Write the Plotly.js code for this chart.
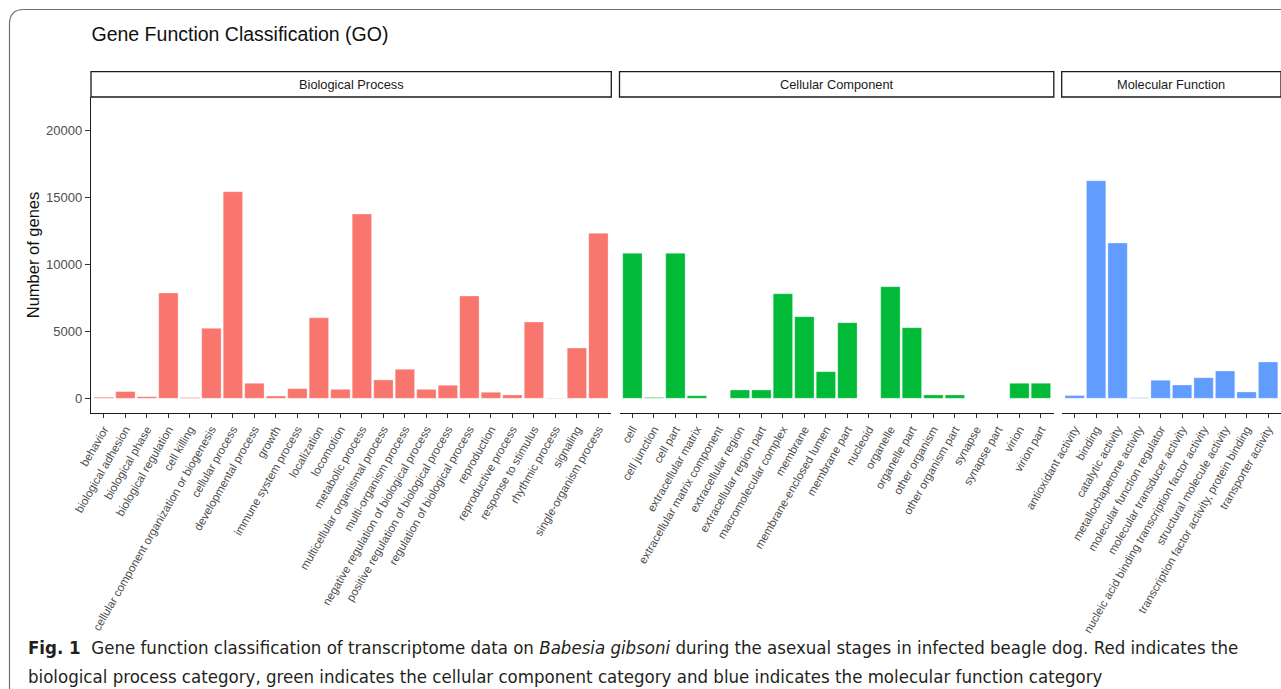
<!DOCTYPE html>
<html>
<head>
<meta charset="utf-8">
<script src="https://cdn.plot.ly/plotly-3.0.1.min.js"></script>
<style>html,body{margin:0;padding:0;background:#fff;}#chart{width:1281px;height:689px;}</style>
</head>
<body>
<div id="chart"></div>
<script>
// ---- Data ----
const bpCategories = ["behavior","biological adhesion","biological phase","biological regulation","cell killing","cellular component organization or biogenesis","cellular process","developmental process","growth","immune system process","localization","locomotion","metabolic process","multicellular organismal process","multi-organism process","negative regulation of biological process","positive regulation of biological process","regulation of biological process","reproduction","reproductive process","response to stimulus","rhythmic process","signaling","single-organism process"];
const bpValues = [80, 500, 120, 7860, 60, 5220, 15420, 1120, 170, 720, 6015, 670, 13750, 1370, 2165, 670, 970, 7635, 450, 250, 5695, 30, 3755, 12310];

const ccCategories = ["cell","cell junction","cell part","extracellular matrix","extracellular matrix component","extracellular region","extracellular region part","macromolecular complex","membrane","membrane-enclosed lumen","membrane part","nucleoid","organelle","organelle part","other organism","other organism part","synapse","synapse part","virion","virion part"];
const ccValues = [10820, 60, 10820, 195, 0, 620, 620, 7800, 6090, 1985, 5640, 0, 8330, 5270, 250, 250, 0, 0, 1120, 1120];

const mfCategories = ["antioxidant activity","binding","catalytic activity","metallochaperone activity","molecular function regulator","molecular transducer activity","nucleic acid binding transcription factor activity","structural molecule activity","transcription factor activity, protein binding","transporter activity"];
const mfValues = [200, 16240, 11590, 40, 1340, 995, 1540, 2040, 470, 2710];

const panelLabels = ["Biological Process", "Cellular Component", "Molecular Function"];
const yTicks = [0, 5000, 10000, 15000, 20000];

const chartTitle = "Gene Function Classification (GO)";
const yTitle = "Number of genes";
const captionLine1 = "<b>Fig. 1</b>  Gene function classification of transcriptome data on <i>Babesia gibsoni</i> during the asexual stages in infected beagle dog. Red indicates the";
const captionLine2 = "biological process category, green indicates the cellular component category and blue indicates the molecular function category";

// ---- Styling ----
const colors = ["#F8766D", "#00BA38", "#619CFF"];
const fontFam = "Liberation Sans, Arial, Helvetica, sans-serif";
const capFam = "Liberation Sans Narrow, Arial Narrow, DejaVu Sans Condensed, sans-serif";

const doms = [[0, 0.43723], [0.44412, 0.80908], [0.81571, 1.0]];

function mkTrace(cats, vals, color, xa) {
  return {type: "bar", x: cats, y: vals, xaxis: xa, yaxis: "y",
    marker: {color: color, line: {width: 0.6, color: "rgba(255,255,255,0.5)"}},
    hoverinfo: "x+y", showlegend: false};
}
const traces = [
  mkTrace(bpCategories, bpValues, colors[0], "x"),
  mkTrace(ccCategories, ccValues, colors[1], "x2"),
  mkTrace(mfCategories, mfValues, colors[2], "x3")
];

function mkX(dom, n) {
  return {domain: dom, anchor: "y", type: "category", range: [-0.6, n - 0.4],
    showline: true, linecolor: "#1a1a1a", linewidth: 1.2, ticks: "outside", ticklen: 4,
    tickcolor: "#333", tickwidth: 1.1, tickangle: -60, showgrid: false, zeroline: false,
    tickfont: {family: fontFam, size: 11.5, color: "#4d4d4d"}, fixedrange: true};
}

const layout = {
  width: 1281, height: 689,
  margin: {l: 91, r: 0, t: 97, b: 276, pad: 0},
  paper_bgcolor: "#fff", plot_bgcolor: "#fff",
  bargap: 0.1,
  font: {family: fontFam},
  title: {text: chartTitle, x: 91.5/1281, xref: "container", xanchor: "left",
          y: 1 - 34/689, yref: "container", yanchor: "middle",
          font: {family: fontFam, size: 19.5, color: "#111"}},
  xaxis: mkX(doms[0], bpCategories.length),
  xaxis2: mkX(doms[1], ccCategories.length),
  xaxis3: mkX(doms[2], mfCategories.length),
  yaxis: {domain: [0, 1], anchor: "x", range: [-1097, 22485], tickvals: yTicks,
    ticktext: yTicks.map(String), showline: true, linecolor: "#1a1a1a", linewidth: 1.2,
    ticks: "outside", ticklen: 5, tickcolor: "#333", tickwidth: 1.1, showgrid: false, zeroline: false,
    tickfont: {family: fontFam, size: 13, color: "#4d4d4d"},
    title: {text: yTitle, standoff: 2, font: {family: fontFam, size: 16.5, color: "#111"}}},
  shapes: [],
  annotations: []
};

// strips
const sy0 = 1.0, sy1 = (413 - 71.7) / 316;
doms.forEach((d, i) => {
  layout.shapes.push({type: "rect", xref: "paper", yref: "paper", x0: d[0], x1: d[1],
    y0: sy0, y1: sy1, fillcolor: "#fff", line: {color: "#1a1a1a", width: 1.3}});
  layout.annotations.push({xref: "paper", yref: "paper", x: (d[0] + d[1]) / 2,
    y: (sy0 + sy1) / 2, text: panelLabels[i], showarrow: false, xanchor: "center", yanchor: "middle",
    font: {family: fontFam, size: 12.8, color: "#1a1a1a"}});
});

// outer rounded frame
const px = v => (v - 91) / 1190;
const py = v => (413 - v) / 316;
layout.shapes.push({type: "path", xref: "paper", yref: "paper",
  path: `M ${px(9.5)},${py(700)} L ${px(9.5)},${py(24)} Q ${px(9.5)},${py(9.5)} ${px(24)},${py(9.5)} L ${px(1300)},${py(9.5)}`,
  line: {color: "#6e6e6e", width: 1.2}, layer: "above"});

// caption
layout.annotations.push({xref: "paper", yref: "paper", x: px(26), y: py(647), xanchor: "left", yanchor: "middle",
  text: captionLine1, showarrow: false, align: "left", font: {family: capFam, size: 18.5, color: "#231f20"}});
layout.annotations.push({xref: "paper", yref: "paper", x: px(26), y: py(676), xanchor: "left", yanchor: "middle",
  text: captionLine2, showarrow: false, align: "left", font: {family: capFam, size: 18.5, color: "#231f20"}});

Plotly.newPlot("chart", traces, layout, {displayModeBar: false, staticPlot: true});
</script>
</body>
</html>
